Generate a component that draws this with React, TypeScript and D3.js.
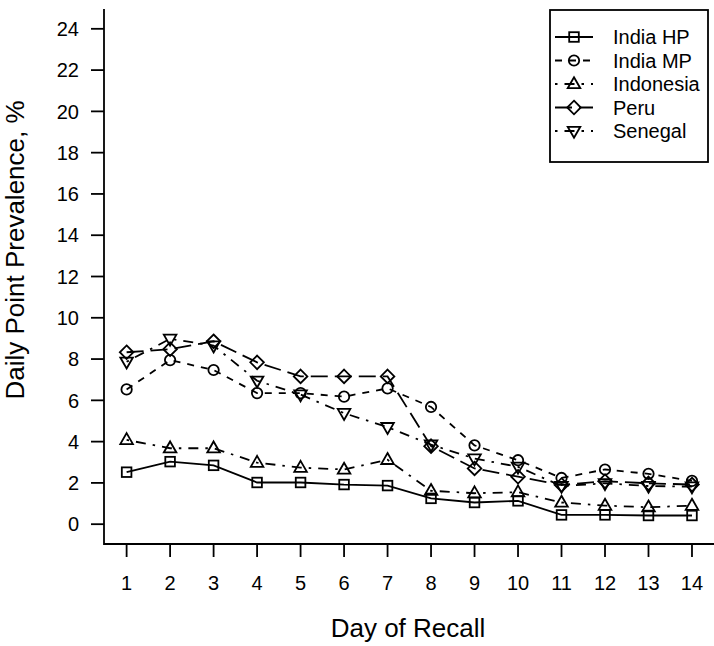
import React from "react";
import * as d3 from "d3";

const days = [1, 2, 3, 4, 5, 6, 7, 8, 9, 10, 11, 12, 13, 14];
const yTicks = [0, 2, 4, 6, 8, 10, 12, 14, 16, 18, 20, 22, 24];

const indiaHP = [2.52, 3.03, 2.85, 2.02, 2.02, 1.92, 1.87, 1.25, 1.05, 1.13, 0.45, 0.45, 0.42, 0.42];
const indiaMP = [6.53, 7.95, 7.47, 6.35, 6.35, 6.18, 6.58, 5.68, 3.82, 3.1, 2.24, 2.65, 2.44, 2.1];
const indonesia = [4.08, 3.68, 3.68, 2.98, 2.74, 2.65, 3.12, 1.62, 1.5, 1.55, 1.05, 0.9, 0.82, 0.9];
const peru = [8.33, 8.48, 8.86, 7.84, 7.16, 7.16, 7.16, 3.78, 2.7, 2.3, 1.9, 2.08, 1.98, 1.92];
const senegal = [7.87, 8.98, 8.65, 6.95, 6.28, 5.38, 4.7, 3.85, 3.18, 2.78, 1.85, 1.98, 1.85, 1.82];

const seriesNames = ["India HP", "India MP", "Indonesia", "Peru", "Senegal"];
const seriesValues = [indiaHP, indiaMP, indonesia, peru, senegal];
const seriesDash = ["none", "7 7", "2.5 7 10 7", "17 7", "2.5 7 10 7"];
const seriesSymbol = ["square", "circle", "triUp", "diamond", "triDown"];

const W = 714;
const H = 646;
const FONT = "'Liberation Sans', Arial, sans-serif";

function Symbol({ kind, x, y }: { kind: string; x: number; y: number }) {
  const common = { fill: "none", stroke: "#000", strokeWidth: 1.8 };
  if (kind === "square") return <rect x={x - 4.8} y={y - 4.8} width={9.6} height={9.6} {...common} />;
  if (kind === "circle") return <circle cx={x} cy={y} r={5.2} {...common} />;
  if (kind === "triUp")
    return <path d={`M${x},${y - 6.8}L${x + 6.3},${y + 4.2}L${x - 6.3},${y + 4.2}Z`} {...common} />;
  if (kind === "triDown")
    return <path d={`M${x},${y + 6.8}L${x + 6.3},${y - 4.2}L${x - 6.3},${y - 4.2}Z`} {...common} />;
  return <path d={`M${x},${y - 6.8}L${x + 6.8},${y}L${x},${y + 6.8}L${x - 6.8},${y}Z`} {...common} />;
}

export default function App() {
  const x = d3.scaleLinear().domain([0.48, 14.52]).range([104, 714.6]);
  const y = d3.scaleLinear().domain([-0.96, 24.96]).range([544, 9]);
  const line = d3
    .line<number>()
    .x((_, i) => x(days[i]))
    .y((d) => y(d));

  const legX = 550;
  const legY = 10;
  const legRow0 = 37;
  const legStep = 23.5;

  return (
    <svg
      width={W}
      height={H}
      style={{ position: "absolute", left: 0, top: 0, background: "#fff" }}
      fontFamily={FONT}
    >
      <rect x={0} y={0} width={W} height={H} fill="#fff" />
      <path d={`M${x(0.48)},${y(24.96)}L${x(0.48)},${y(-0.96)}L${x(14.52)},${y(-0.96)}`} fill="none" stroke="#000" strokeWidth={1.8} />
      {yTicks.map((t) => (
        <g key={"y" + t}>
          <line x1={x(0.48)} x2={x(0.48) - 13} y1={y(t)} y2={y(t)} stroke="#000" strokeWidth={1.8} />
          <text x={79} y={y(t)} dy="0.36em" textAnchor="end" fontSize={20}>
            {t}
          </text>
        </g>
      ))}
      {days.map((d) => (
        <g key={"x" + d}>
          <line x1={x(d)} x2={x(d)} y1={y(-0.96)} y2={y(-0.96) + 13} stroke="#000" strokeWidth={1.8} />
          <text x={x(d)} y={583} dy="0.36em" textAnchor="middle" fontSize={20}>
            {d}
          </text>
        </g>
      ))}
      <text x={408} y={628} dy="0.36em" textAnchor="middle" fontSize={26}>
        Day of Recall
      </text>
      <text
        transform={`translate(15,250) rotate(-90)`}
        dy="0.36em"
        textAnchor="middle"
        fontSize={26}
      >
        Daily Point Prevalence, %
      </text>

      {seriesValues.map((vals, si) => (
        <g key={seriesNames[si]}>
          <path
            d={line(vals) || ""}
            fill="none"
            stroke="#000"
            strokeWidth={1.8}
            strokeDasharray={seriesDash[si]}
          />
          {vals.map((v, i) => (
            <Symbol key={i} kind={seriesSymbol[si]} x={x(days[i])} y={y(v)} />
          ))}
        </g>
      ))}

      <rect x={legX} y={legY} width={158} height={152} fill="#fff" stroke="#000" strokeWidth={1.8} />
      {seriesNames.map((n, si) => {
        const ry = legRow0 + si * legStep;
        return (
          <g key={"leg" + n}>
            <line x1={555} x2={593} y1={ry} y2={ry} stroke="#000" strokeWidth={1.8} strokeDasharray={seriesDash[si]} />
            <Symbol kind={seriesSymbol[si]} x={574} y={ry} />
            <text x={613} y={ry} dy="0.36em" fontSize={20}>
              {n}
            </text>
          </g>
        );
      })}
    </svg>
  );
}
